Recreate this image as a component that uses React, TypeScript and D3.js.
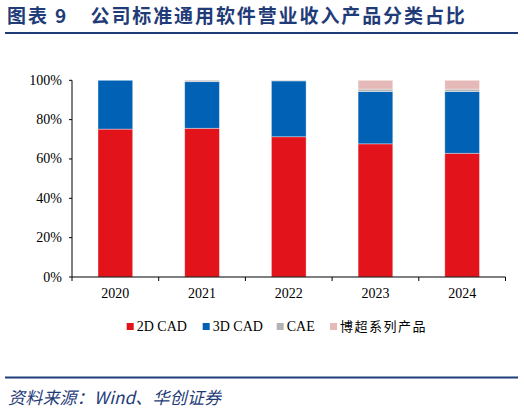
import * as d3 from 'd3'
import { useEffect, useRef } from 'react'

const years = ['2020', '2021', '2022', '2023', '2024']
const seriesNames = ['2D CAD', '3D CAD', 'CAE', '博超系列产品']
const cad2d = [75.2, 75.6, 71.3, 67.7, 62.9]
const cad3d = [24.8, 23.7, 28.4, 26.6, 31.4]
const cae = [0, 0.7, 0.3, 1.2, 1.2]
const boChao = [0, 0, 0, 4.5, 4.5]
const yTicks = [0, 20, 40, 60, 80, 100]
const colors = ['#e3131c', '#0061b5', '#b3b3b3', '#e6b9b9']

const titleLabel = '图表 9'
const titleText = '公司标准通用软件营业收入产品分类占比'
const sourceText = '资料来源：Wind、华创证券'

export default function App() {
  const ref = useRef<SVGSVGElement>(null)

  useEffect(() => {
    if (!ref.current) return
    const svg = d3.select(ref.current)
    svg.selectAll('*').remove()

    const width = 524
    const height = 413
    const left = 72
    const right = 505.5
    const top = 80.3
    const bottom = 277
    const serif = '"Liberation Serif", "Times New Roman", serif'
    const cjk = '"Noto Sans CJK SC", sans-serif'
    const navy = '#1f3c78'

    svg.attr('width', width).attr('height', height)

    // Title + rule
    svg
      .append('text')
      .attr('x', 7)
      .attr('y', 23)
      .style('font-family', cjk)
      .style('font-size', '19px')
      .style('font-weight', 'bold')
      .style('letter-spacing', '1.9px')
      .style('fill', navy)
      .text(titleLabel)

    svg
      .append('text')
      .attr('x', 90.5)
      .attr('y', 23)
      .style('font-family', cjk)
      .style('font-size', '19px')
      .style('font-weight', 'bold')
      .style('letter-spacing', '1.9px')
      .style('fill', navy)
      .text(titleText)

    svg
      .append('line')
      .attr('x1', 5)
      .attr('x2', 518)
      .attr('y1', 33)
      .attr('y2', 33)
      .attr('stroke', navy)
      .attr('stroke-width', 2)

    // Data rows for stack
    const rows = years.map((year, i) => ({
      year,
      [seriesNames[0]]: cad2d[i],
      [seriesNames[1]]: cad3d[i],
      [seriesNames[2]]: cae[i],
      [seriesNames[3]]: boChao[i],
    }))
    const stacked = d3.stack<any>().keys(seriesNames)(rows)

    const xScale = d3
      .scaleBand()
      .domain(years)
      .range([left, right])
      .paddingInner(0.6)
      .paddingOuter(0.3)

    const yScale = d3.scaleLinear().domain([0, 100]).range([bottom, top])

    // Bars
    svg
      .append('g')
      .selectAll('g')
      .data(stacked)
      .enter()
      .append('g')
      .attr('fill', (_d, i) => colors[i])
      .selectAll('rect')
      .data(d => d)
      .enter()
      .append('rect')
      .attr('x', d => xScale(d.data.year)!)
      .attr('y', d => yScale(d[1]))
      .attr('width', xScale.bandwidth())
      .attr('height', d => yScale(d[0]) - yScale(d[1]))
      .attr('stroke', 'rgba(255,255,255,0.45)')
      .attr('stroke-width', 0.8)

    // Y axis
    svg
      .append('line')
      .attr('x1', left)
      .attr('x2', left)
      .attr('y1', top)
      .attr('y2', bottom)
      .attr('stroke', '#000')
      .attr('stroke-width', 1)

    svg
      .selectAll('.y-tick')
      .data(yTicks)
      .enter()
      .append('line')
      .attr('class', 'y-tick')
      .attr('x1', left - 3)
      .attr('x2', left)
      .attr('y1', d => yScale(d))
      .attr('y2', d => yScale(d))
      .attr('stroke', '#000')

    svg
      .selectAll('.y-label')
      .data(yTicks)
      .enter()
      .append('text')
      .attr('class', 'y-label')
      .attr('x', left - 10)
      .attr('y', d => yScale(d) + 4.5)
      .attr('text-anchor', 'end')
      .style('font-family', serif)
      .style('font-size', '14px')
      .text(d => `${d}%`)

    // X axis
    svg
      .append('line')
      .attr('x1', left)
      .attr('x2', right)
      .attr('y1', bottom)
      .attr('y2', bottom)
      .attr('stroke', '#000')

    const gap = (xScale.step() - xScale.bandwidth()) / 2
    const boundaries = years.map(y => xScale(y)! - gap).concat([right])
    svg
      .selectAll('.x-tick')
      .data(boundaries)
      .enter()
      .append('line')
      .attr('class', 'x-tick')
      .attr('x1', d => d)
      .attr('x2', d => d)
      .attr('y1', bottom)
      .attr('y2', bottom + 4)
      .attr('stroke', '#000')

    svg
      .selectAll('.x-label')
      .data(years)
      .enter()
      .append('text')
      .attr('class', 'x-label')
      .attr('x', d => xScale(d)! + xScale.bandwidth() / 2)
      .attr('y', 298)
      .attr('text-anchor', 'middle')
      .style('font-family', serif)
      .style('font-size', '14px')
      .text(d => d)

    // Legend
    const legendX = [126.7, 202.7, 276.7, 330]
    const legend = svg
      .selectAll('.legend')
      .data(seriesNames)
      .enter()
      .append('g')
      .attr('class', 'legend')
      .attr('transform', (_d, i) => `translate(${legendX[i]},323)`)

    legend
      .append('rect')
      .attr('width', 7)
      .attr('height', 7)
      .attr('fill', (_d, i) => colors[i])

    legend
      .append('text')
      .attr('x', 10)
      .attr('y', 8)
      .style('font-family', (_d, i) => (i === 3 ? cjk : serif))
      .style('font-size', (_d, i) => (i === 3 ? '13px' : '14px'))
      .style('letter-spacing', (_d, i) => (i === 3 ? '1.5px' : '0px'))
      .text(d => d)

    // Source
    svg
      .append('line')
      .attr('x1', 5)
      .attr('x2', 518)
      .attr('y1', 377.5)
      .attr('y2', 377.5)
      .attr('stroke', navy)
      .attr('stroke-width', 2)

    svg
      .append('text')
      .attr('x', 8)
      .attr('y', 404)
      .style('font-family', cjk)
      .style('font-size', '17px')
      .style('font-style', 'italic')
      .style('letter-spacing', '0.2px')
      .style('fill', navy)
      .text(sourceText)
  }, [])

  return (
    <div style={{ position: 'absolute', left: 0, top: 0 }}>
      <svg ref={ref}></svg>
    </div>
  )
}
